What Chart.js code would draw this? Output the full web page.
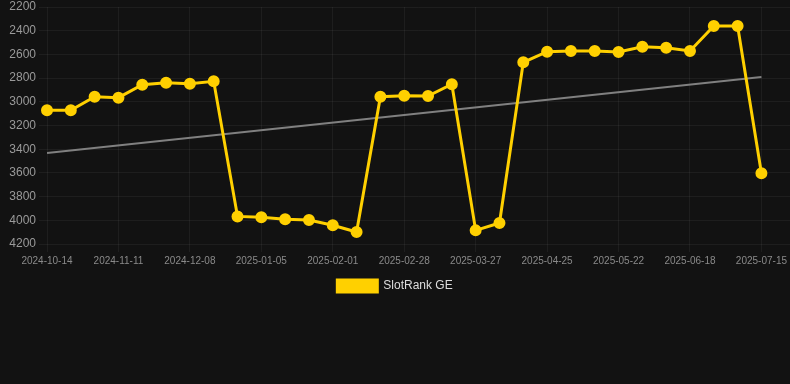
<!DOCTYPE html>
<html>
<head>
<meta charset="utf-8">
<script src="https://cdn.jsdelivr.net/npm/chart.js@4/dist/chart.umd.min.js"></script>
<style>
  html, body { margin: 0; padding: 0; background: #121212; }
  #wrap { width: 790px; height: 302px; position: relative; }
</style>
</head>
<body>
<div id="wrap"><canvas id="c"></canvas></div>
<script>
const dates = ["2024-10-14","2024-10-23","2024-11-02","2024-11-11","2024-11-20","2024-11-29","2024-12-08","2024-12-17","2024-12-27","2025-01-05","2025-01-14","2025-01-23","2025-02-01","2025-02-10","2025-02-19","2025-02-28","2025-03-09","2025-03-18","2025-03-27","2025-04-06","2025-04-15","2025-04-25","2025-05-04","2025-05-13","2025-05-22","2025-05-31","2025-06-09","2025-06-18","2025-06-27","2025-07-06","2025-07-15"];
const rankValues = [3072,3072,2957,2965,2856,2839,2847,2827,3967,3975,3992,3997,4042,4099,2957,2948,2951,2852,4085,4023,2667,2577,2571,2571,2580,2535,2543,2571,2360,2360,3603];
const trendStart = 3432;
const trendEnd = 2791;
const yTicks = [2200,2400,2600,2800,3000,3200,3400,3600,3800,4000,4200];

const rankPoints = rankValues.map((v, i) => ({x: i, y: v}));
const trendPoints = [{x: 0, y: trendStart}, {x: dates.length - 1, y: trendEnd}];

new Chart(document.getElementById('c'), {
  type: 'line',
  data: {
    datasets: [
      {
        label: 'SlotRank GE',
        data: rankPoints,
        borderColor: '#FFD000',
        backgroundColor: '#FFD000',
        borderWidth: 3,
        pointRadius: 4.5,
        pointHoverRadius: 5,
        pointBackgroundColor: '#FFD000',
        pointBorderColor: '#FFD000',
        tension: 0,
        clip: false
      },
      {
        label: 'trend',
        data: trendPoints,
        borderColor: '#808080',
        borderWidth: 2,
        pointRadius: 0,
        fill: false
      }
    ]
  },
  options: {
    responsive: true,
    maintainAspectRatio: false,
    animation: false,
    layout: { padding: 0, autoPadding: false },
    scales: {
      x: {
        type: 'linear',
        min: 0,
        max: 31.2,
        afterFit: (s) => { s.paddingLeft = 0; s.paddingRight = 0; },
        grid: { color: 'rgba(255,255,255,0.05)', tickLength: 8 },
        border: { display: false },
        ticks: {
          stepSize: 3,
          includeBounds: false,
          autoSkip: false,
          maxRotation: 0,
          color: '#8a8a8a',
          font: { family: 'Liberation Sans, Arial, sans-serif', size: 10 },
          callback: (v) => Number.isInteger(v) && dates[v] ? dates[v] : ''
        }
      },
      y: {
        reverse: true,
        min: 2200,
        max: 4200,
        afterBuildTicks: (s) => { s.ticks = yTicks.map(v => ({value: v})); },
        afterFit: (s) => { s.width = 47; s.paddingTop = 7; s.paddingBottom = 0; },
        grid: { color: 'rgba(255,255,255,0.05)', tickLength: 8 },
        border: { display: false },
        ticks: {
          color: '#9a9a9a',
          font: { family: 'Liberation Sans, Arial, sans-serif', size: 12 },
          callback: (v) => String(v)
        }
      }
    },
    plugins: {
      legend: {
        position: 'bottom',
        labels: {
          color: '#dddddd',
          boxWidth: 40,
          boxHeight: 12,
          font: { family: 'Liberation Sans, Arial, sans-serif', size: 12 },
          filter: (item) => item.text !== 'trend'
        }
      },
      tooltip: { enabled: false }
    }
  }
});
</script>
</body>
</html>
